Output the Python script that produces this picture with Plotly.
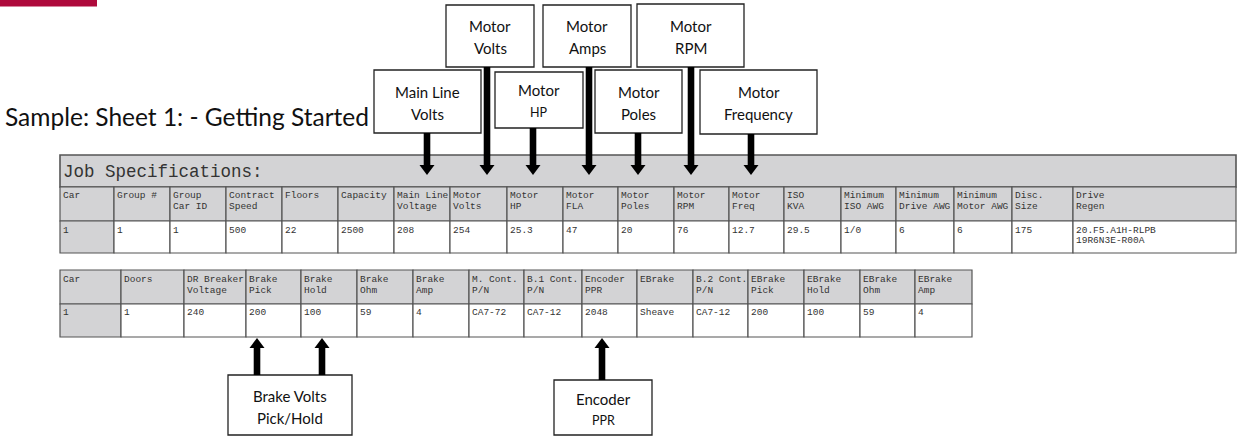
import plotly.graph_objects as go

# ---------------- data ----------------
page_title = "Sample: Sheet 1: - Getting Started"
table1_title = "Job Specifications:"

t1_headers = ["Car", "Group #", "Group\nCar ID", "Contract\nSpeed", "Floors", "Capacity",
              "Main Line\nVoltage", "Motor\nVolts", "Motor\nHP", "Motor\nFLA", "Motor\nPoles",
              "Motor\nRPM", "Motor\nFreq", "ISO\nKVA", "Minimum\nISO AWG", "Minimum\nDrive AWG",
              "Minimum\nMotor AWG", "Disc.\nSize", "Drive\nRegen"]
t1_values = ["1", "1", "1", "500", "22", "2500", "208", "254", "25.3", "47", "20", "76",
             "12.7", "29.5", "1/0", "6", "6", "175", "20.F5.A1H-RLPB\n19R6N3E-R00A"]

t2_headers = ["Car", "Doors", "DR Breaker\nVoltage", "Brake\nPick", "Brake\nHold", "Brake\nOhm",
              "Brake\nAmp", "M. Cont.\nP/N", "B.1 Cont.\nP/N", "Encoder\nPPR", "EBrake",
              "B.2 Cont.\nP/N", "EBrake\nPick", "EBrake\nHold", "EBrake\nOhm", "EBrake\nAmp"]
t2_values = ["1", "1", "240", "200", "100", "59", "4", "CA7-72", "CA7-12", "2048", "Sheave",
             "CA7-12", "200", "100", "59", "4"]

top_labels = ["Main Line\nVolts", "Motor\nVolts", "Motor\nHP", "Motor\nAmps",
              "Motor\nPoles", "Motor\nRPM", "Motor\nFrequency"]
bottom_labels = ["Brake Volts\nPick/Hold", "Encoder\nPPR"]

# ---------------- layout (pixel geometry) ----------------
W, H = 1242, 437
t1_edges = [60, 114, 170, 226, 282, 338, 394, 450, 507, 563, 618, 674, 729, 784,
            841, 896, 954, 1012, 1073, 1236]
t1_rows = [155, 187, 221, 253]          # title, header, data
t2_edges = [60, 121, 184, 246, 301, 357, 413, 469, 524, 582, 637, 693, 748, 804,
            860, 915, 972]
t2_rows = [270, 304, 337]               # header, data

top_boxes = [(374, 481, 70, 133), (446, 534, 5, 67), (495, 583, 72, 128),
             (543, 631, 5, 67), (595, 682, 70, 133), (637, 744, 4, 67),
             (700, 817, 70, 134)]
top_arrow_x = [427, 487, 533, 589, 638, 691, 751]
top_arrow_tip = 175
top_line2_size = [15, 15, 12.5, 15, 15, 15, 15]

bottom_boxes = [(228, 352, 375, 435), (554, 652, 380, 435)]
bottom_arrow_x = [[257, 322], [602]]
bottom_arrow_tip = 338
bottom_line2_size = [15, 12.5]

GRAY = "#D3D3D5"
BORDER = "#555555"
TXT = "#333333"
MONO = "Liberation Mono, Courier New, monospace"
SANS = "Lato, Carlito, Open Sans, sans-serif"

fig = go.Figure()
shapes = []
annots = []


def text(x, y, s, size, family, color, xanchor="left"):
    annots.append(dict(x=x, y=y, text=s, showarrow=False, xanchor=xanchor, yanchor="middle",
                       font=dict(size=size, family=family, color=color),
                       xref="x", yref="y", borderpad=0))


def rect(x0, x1, y0, y1, fill, lc=BORDER, lw=1.2):
    shapes.append(dict(type="rect", x0=x0, x1=x1, y0=y0, y1=y1, xref="x", yref="y",
                       fillcolor=fill, line=dict(color=lc, width=lw), layer="below"))


def arrow(cx, ybase, ytip):
    d = 1 if ytip > ybase else -1
    head = 10
    hw = 7.5
    sw = 3.3
    neck = ytip - d * head
    shapes.append(dict(type="rect", x0=cx - sw, x1=cx + sw, y0=ybase, y1=neck + d * 0.5,
                       xref="x", yref="y", fillcolor="black", line=dict(width=0)))
    shapes.append(dict(type="path", xref="x", yref="y",
                       path=f"M {cx - hw},{neck} L {cx + hw},{neck} L {cx},{ytip} Z",
                       fillcolor="black", line=dict(width=0)))


# red bar top-left
shapes.append(dict(type="rect", x0=0, x1=97, y0=0, y1=6.5, xref="x", yref="y",
                   fillcolor="#AE0A3C", line=dict(width=0)))

# page title
text(4, 116, page_title, 24.5, SANS, "#111111")

# ---------- table 1 ----------
rect(t1_edges[0], t1_edges[-1], t1_rows[0], t1_rows[1], GRAY, lw=1.6)
text(t1_edges[0] + 2, (t1_rows[0] + t1_rows[1]) / 2 + 1, table1_title, 17.5, MONO, TXT)
for i, (h, v) in enumerate(zip(t1_headers, t1_values)):
    x0, x1 = t1_edges[i], t1_edges[i + 1]
    rect(x0, x1, t1_rows[1], t1_rows[2], GRAY)
    rect(x0, x1, t1_rows[2], t1_rows[3], GRAY if i == 0 else "white")
    for k, line in enumerate(h.split("\n")):
        text(x0 + 1.5, t1_rows[1] + 8 + 11.5 * k, line, 9.5, MONO, TXT)
    for k, line in enumerate(v.split("\n")):
        text(x0 + 1.5, t1_rows[2] + 9 + 10.5 * k, line, 9.5, MONO, TXT)

# ---------- table 2 ----------
for i, (h, v) in enumerate(zip(t2_headers, t2_values)):
    x0, x1 = t2_edges[i], t2_edges[i + 1]
    rect(x0, x1, t2_rows[0], t2_rows[1], GRAY)
    rect(x0, x1, t2_rows[1], t2_rows[2], GRAY if i == 0 else "white")
    for k, line in enumerate(h.split("\n")):
        text(x0 + 1.5, t2_rows[0] + 9 + 11 * k, line, 9.5, MONO, TXT)
    for k, line in enumerate(v.split("\n")):
        text(x0 + 1.5, t2_rows[1] + 8.5 + 10.5 * k, line, 9.5, MONO, TXT)

# ---------- callout boxes ----------
for lab, (x0, x1, y0, y1), ax, s2 in zip(top_labels, top_boxes, top_arrow_x, top_line2_size):
    rect(x0, x1, y0, y1, "white", lc="#222222", lw=1.3)
    cy = (y0 + y1) / 2
    l1, l2 = lab.split("\n")
    text((x0 + x1) / 2, cy - 10, l1, 15, SANS, "#111111", xanchor="center")
    text((x0 + x1) / 2, cy + 12, l2, s2, SANS, "#111111", xanchor="center")
    arrow(ax, y1, top_arrow_tip)

for lab, (x0, x1, y0, y1), axs, s2 in zip(bottom_labels, bottom_boxes, bottom_arrow_x,
                                          bottom_line2_size):
    rect(x0, x1, y0, y1, "white", lc="#222222", lw=1.3)
    cy = (y0 + y1) / 2
    l1, l2 = lab.split("\n")
    text((x0 + x1) / 2, cy - 9, l1, 15, SANS, "#111111", xanchor="center")
    text((x0 + x1) / 2, cy + 13, l2, s2, SANS, "#111111", xanchor="center")
    for ax in axs:
        arrow(ax, y0, bottom_arrow_tip)

fig.update_layout(
    width=W, height=H, margin=dict(l=0, r=0, t=0, b=0),
    paper_bgcolor="white", plot_bgcolor="white",
    xaxis=dict(range=[0, W], visible=False, fixedrange=True),
    yaxis=dict(range=[H, 0], visible=False, fixedrange=True),
    shapes=shapes, annotations=annots, showlegend=False,
)
# remove the page's default 8px body margin so the figure sits at the window origin
fig.write_html("out.html", config={"displayModeBar": False},
               post_script="document.body.style.margin='0px';"
                           "document.body.style.overflow='hidden';")
